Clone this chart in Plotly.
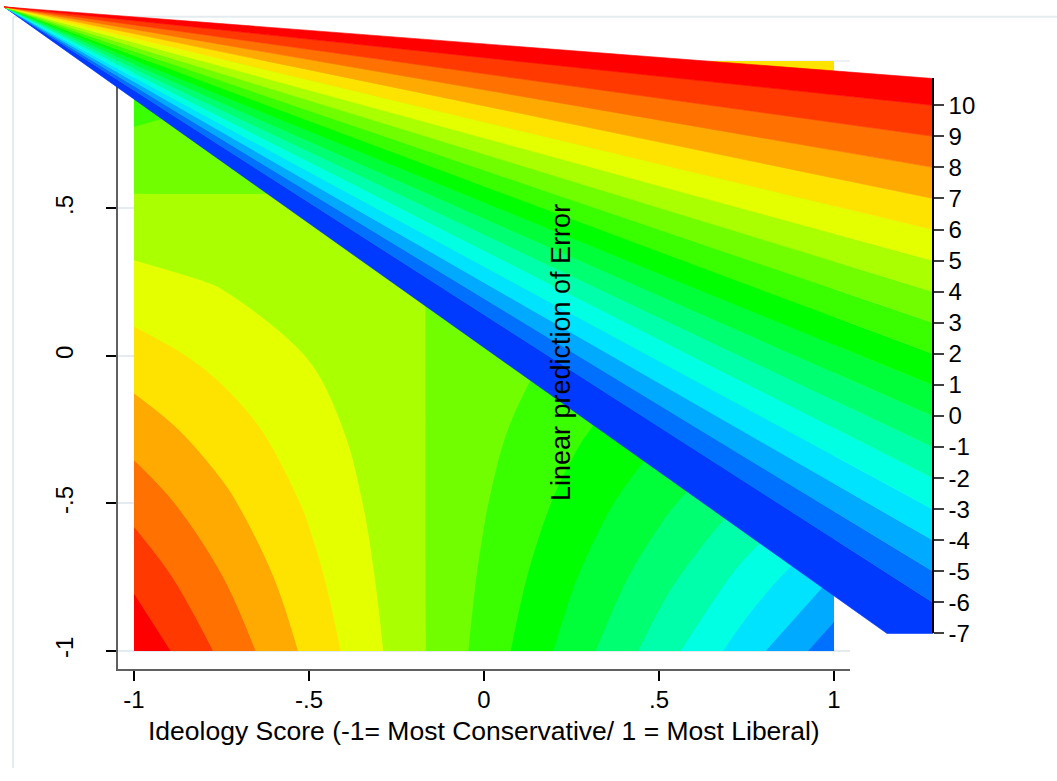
import plotly.graph_objects as go

W, H = 1057, 781

# ---- data -------------------------------------------------------------
ideology = [-1, -0.75, -0.5, -0.25, 0, 0.25, 0.5, 0.75, 1]
second_score = [-1, -0.75, -0.5, -0.25, 0, 0.25, 0.5, 0.75, 1]
# linear prediction of Error, rows follow second_score, columns follow ideology
error_pred = [
    [10.86, 8.80, 6.74, 4.69, 2.63, 0.57, -1.49, -3.55, -5.61],
    [9.75, 8.03, 6.30, 4.57, 2.85, 1.12, -0.61, -2.33, -4.06],
    [8.65, 7.25, 5.86, 4.46, 3.07, 1.67, 0.28, -1.12, -2.51],
    [7.54, 6.48, 5.42, 4.35, 3.29, 2.23, 1.16, 0.10, -0.96],
    [6.44, 5.70, 4.97, 4.24, 3.51, 2.78, 2.05, 1.32, 0.59],
    [5.33, 4.93, 4.53, 4.13, 3.73, 3.33, 2.93, 2.53, 2.13],
    [4.22, 4.15, 4.09, 4.02, 3.95, 3.88, 3.82, 3.75, 3.68],
    [3.12, 3.38, 3.64, 3.91, 4.17, 4.44, 4.70, 4.96, 5.23],
    [2.01, 2.61, 3.20, 3.80, 4.39, 4.99, 5.59, 6.18, 6.78],
]
contour_cuts = list(range(-7, 11))          # -7, -6, ..., 10
x_tick_vals = [-1, -0.5, 0, 0.5, 1]
x_tick_text = ["-1", "-.5", "0", ".5", "1"]
y_tick_vals = [-1, -0.5, 0, 0.5]
y_tick_text = ["-1", "-.5", "0", ".5"]
y_grid_top = 1
x_title = "Ideology Score (-1= Most Conservative/ 1 = Most Liberal)"
z_title = "Linear prediction of Error"

# one colour per band: below -7, -7..-6, ..., 9..10, above 10 (blue -> red hue ramp)
band_colors = [
    "#0000FF", "#0039FF", "#0071FF", "#00AAFF", "#00E3FF", "#00FFE3",
    "#00FFAA", "#00FF71", "#00FF39", "#00FF00", "#39FF00", "#71FF00",
    "#AAFF00", "#E3FF00", "#FFE300", "#FFAA00", "#FF7100", "#FF3900",
    "#FF0000",
]

# ---- geometry (pixels) --------------------------------------------------
FONT = "Liberation Sans, Arial, Helvetica, sans-serif"
PLOT_L, PLOT_R = 118, 850          # axis frame
PLOT_T, PLOT_B = 44, 680
DATA_L, DATA_R = 134, 834          # where x = -1 / 1 sit
DATA_T, DATA_B = 62, 662           # where y = 1 / -1 sit
BAR_X = 933                        # colour-bar axis
BAR_FOOT_X = 887
APEX = (4, 7)
CB_PX_AT_10 = 107
CB_PX_PER_UNIT = 31.6
GRID_COLOR = "#e4ecf0"

def px_x(p):
    return p / W

def px_y(p):
    return 1 - p / H

def cb_value(py):
    """pixel row -> value on the colour-bar scale"""
    return 10 + (CB_PX_AT_10 - py) / CB_PX_PER_UNIT

def cb_pixel(v):
    return CB_PX_AT_10 + (10 - v) * CB_PX_PER_UNIT

zmax = max(max(r) for r in error_pred)

# axis ranges padded so the data rectangle sits inside the axis frame
xu = (DATA_R - DATA_L) / 2
yu = (DATA_B - DATA_T) / 2
x_range = [-1 - (DATA_L - PLOT_L) / xu, 1 + (PLOT_R - DATA_R) / xu]
y_range = [-1 - (PLOT_B - DATA_B) / yu, 1 + (DATA_T - PLOT_T) / yu]

fig = go.Figure()

fig.add_trace(go.Contour(
    x=ideology, y=second_score, z=error_pred,
    autocontour=False,
    contours=dict(start=contour_cuts[0], end=contour_cuts[-1], size=1,
                  coloring="fill", showlines=False),
    colorscale=[[i / (len(band_colors) - 1), c] for i, c in enumerate(band_colors)],
    line=dict(width=0),
    showscale=False,
    hoverinfo="skip",
))

# ---- fan-shaped colour bar ----------------------------------------------
bar_edges = contour_cuts + [zmax]
apex_v = cb_value(APEX[1])
for i in range(len(bar_edges) - 1):
    lo, hi = bar_edges[i], bar_edges[i + 1]
    col = band_colors[i + 1]
    xs = [APEX[0], BAR_X, BAR_X]
    ys = [apex_v, hi, lo]
    if i == 0:
        xs.append(BAR_FOOT_X)
        ys.append(lo)
    xs.append(APEX[0])
    ys.append(apex_v)
    fig.add_trace(go.Scatter(
        x=xs, y=ys, mode="lines", fill="toself", fillcolor=col,
        line=dict(color=col, width=0.6),
        xaxis="x2", yaxis="y2", hoverinfo="skip", showlegend=False,
    ))

# carrier for the colour-bar axis
fig.add_trace(go.Scatter(x=[None], y=[None], xaxis="x2", yaxis="y3",
                         showlegend=False, hoverinfo="skip"))

axis_line = "#606060"
tick_font = dict(size=24)
fig.update_layout(
    width=W, height=H,
    margin=dict(l=0, r=0, t=0, b=0),
    paper_bgcolor="white", plot_bgcolor="rgba(0,0,0,0)",
    font=dict(family=FONT, color="black", size=24),
    showlegend=False,
    xaxis=dict(
        domain=[px_x(PLOT_L), px_x(PLOT_R)], range=x_range,
        showline=True, linecolor=axis_line, linewidth=2,
        ticks="outside", ticklen=10, tickwidth=1.5, tickcolor="black",
        tickvals=x_tick_vals, ticktext=x_tick_text,
        tickfont=tick_font, showgrid=False, zeroline=False,
        ticklabelstandoff=-1,
    ),
    yaxis=dict(
        domain=[px_y(PLOT_B), px_y(PLOT_T)], range=y_range,
        showline=True, linecolor=axis_line, linewidth=2,
        ticks="outside", ticklen=10, tickwidth=1.5, tickcolor="black",
        tickvals=y_tick_vals, ticktext=y_tick_text, tickangle=-90,
        tickfont=tick_font, showgrid=True, gridcolor=GRID_COLOR,
        gridwidth=1.5, zeroline=False, ticklabelstandoff=23,
    ),
    xaxis2=dict(domain=[0, 1], range=[0, W], visible=False,
                anchor="y2", fixedrange=True),
    yaxis2=dict(domain=[0, 1], range=[cb_value(H), cb_value(0)],
                visible=False, anchor="x2", fixedrange=True),
    yaxis3=dict(
        domain=[px_y(cb_pixel(contour_cuts[0])), px_y(cb_pixel(zmax))],
        range=[contour_cuts[0], zmax],
        anchor="free", position=px_x(BAR_X), side="right",
        showline=True, linecolor="black", linewidth=1.5,
        ticks="outside", ticklen=10, tickwidth=1.5, tickcolor="#404040",
        tickvals=contour_cuts, ticktext=[str(v) for v in contour_cuts],
        tickfont=tick_font, showgrid=False, zeroline=False,
        fixedrange=True,
    ),
    annotations=[
        dict(text=x_title, x=px_x(484), y=px_y(743), xref="paper",
             yref="paper", xanchor="center", yanchor="middle",
             showarrow=False, font=dict(size=26.5)),
        dict(text=z_title, x=px_x(561), y=px_y(359), xref="paper",
             yref="paper", xanchor="center", yanchor="middle",
             textangle=-90, showarrow=False, font=dict(size=27)),
    ],
    shapes=[
        # gridline at the top of the y range, drawn beneath the contours
        dict(type="line", xref="x domain", yref="y", x0=0, x1=1,
             y0=y_grid_top, y1=y_grid_top,
             line=dict(color=GRID_COLOR, width=1.5), layer="below"),
        # outer border of the graph region
        dict(type="line", xref="paper", yref="paper",
             x0=px_x(13), x1=px_x(13), y0=px_y(17), y1=0,
             line=dict(color=GRID_COLOR, width=2), layer="below"),
        dict(type="line", xref="paper", yref="paper",
             x0=px_x(13), x1=1, y0=px_y(17), y1=px_y(17),
             line=dict(color=GRID_COLOR, width=2), layer="below"),
    ],
)

fig.write_html("out.html")
